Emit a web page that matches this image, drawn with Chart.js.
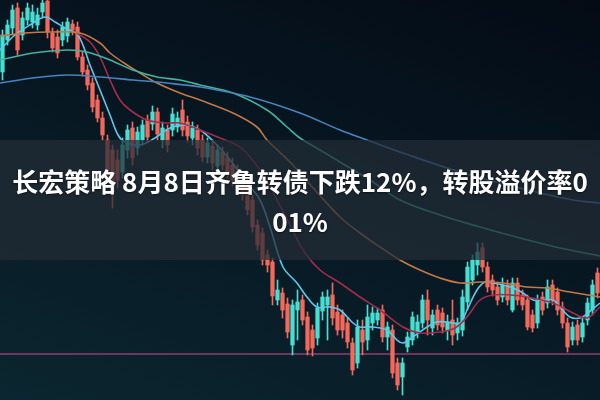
<!DOCTYPE html>
<html>
<head>
<meta charset="utf-8">
<script src="https://cdn.jsdelivr.net/npm/chart.js@4"></script>
<style>
    html, body { margin: 0; padding: 0; }
    #wrap {
        position: relative;
        width: 600px;
        height: 400px;
        overflow: hidden;
        background: linear-gradient(200deg, #040b15 0%, #071722 45%, #0b2630 100%);
    }
    #chart { position: absolute; left: 0; top: 0; filter: blur(0.4px); }
    #band {
        position: absolute;
        left: 0;
        top: 140px;
        width: 600px;
        height: 120px;
        background: rgba(34, 44, 54, 0.72);
    }
    #title {
        position: absolute;
        left: 0;
        top: 161px;
        width: 600px;
        text-align: center;
        color: #ffffff;
        font-family: "Noto Sans CJK SC", "Noto Sans", sans-serif;
        font-weight: bold;
        font-size: 26px;
        line-height: 40px;
        white-space: nowrap;
        text-shadow: 0 1px 2px rgba(0, 0, 0, 0.5);
    }
</style>
</head>
<body>
<div id="wrap">
    <canvas id="chart" width="600" height="400"></canvas>
    <div id="band"></div>
    <div id="title">长宏策略 8月8日齐鲁转债下跌12%，转股溢价率0<br>01%</div>
</div>
<script>
// Candle values (one per session)
const opens = [122.8, 126.0, 127.2, 129.2, 126.5, 128.0, 127.8, 127.5, 128.8, 129.9,
    126.7, 126.3, 126.0, 126.4, 127.6, 127.3, 124.3, 123.0, 121.7, 120.0,
    118.2, 116.0, 115.0, 114.0, 112.8, 115.0, 117.2, 115.2, 116.0, 118.0,
    117.6, 118.8, 116.0, 117.0, 117.0, 117.3, 119.0, 117.8, 116.2, 117.0,
    116.0, 114.3, 115.4, 113.4, 114.8, 114.2, 113.5, 112.8, 112.0, 111.0,
    110.0, 107.5, 106.7, 104.5, 103.8, 100.0, 100.7, 99.6, 95.5, 99.0,
    100.0, 98.3, 97.0, 96.2, 98.9, 99.5, 100.5, 98.8, 98.5, 97.7,
    95.7, 93.7, 97.0, 96.0, 97.7, 98.0, 99.0, 96.3, 97.0, 93.7,
    92.3, 95.3, 96.0, 96.7, 97.7, 100.0, 97.2, 99.0, 98.7, 97.0,
    98.0, 96.7, 97.0, 99.8, 102.0, 103.5, 105.2, 103.3, 102.0, 101.3,
    100.3, 101.5, 99.0, 101.7, 100.5, 100.0, 98.5, 97.7, 100.3, 99.7,
    101.5, 100.8, 99.3, 97.7, 96.0, 97.5, 96.3, 98.0, 99.0, 102.7];
const closes = [126.5, 127.5, 129.0, 125.0, 128.2, 129.2, 128.8, 128.5, 129.7, 126.8,
    125.2, 124.7, 127.3, 127.8, 127.0, 124.3, 122.8, 121.5, 119.3, 118.2,
    116.5, 113.0, 110.8, 112.0, 115.5, 117.0, 114.2, 116.8, 117.5, 116.3,
    118.8, 116.6, 117.2, 115.5, 118.6, 118.2, 117.0, 116.4, 117.2, 115.2,
    114.3, 115.7, 113.7, 115.0, 113.5, 112.8, 112.0, 111.0, 110.5, 109.0,
    107.3, 105.5, 104.0, 103.5, 100.4, 101.0, 99.0, 96.8, 99.5, 99.8,
    98.0, 95.0, 95.2, 99.2, 100.3, 100.3, 98.2, 97.0, 97.0, 95.8,
    93.0, 97.3, 95.8, 98.3, 98.7, 98.7, 96.3, 97.3, 92.7, 91.5,
    93.7, 96.3, 98.3, 97.8, 100.0, 98.0, 98.5, 97.5, 97.3, 97.8,
    96.5, 97.7, 100.3, 103.3, 104.0, 104.8, 103.3, 101.3, 101.0, 100.0,
    101.5, 100.0, 101.7, 100.0, 99.5, 97.3, 97.2, 100.0, 99.0, 101.3,
    100.0, 99.0, 97.7, 95.3, 97.3, 96.0, 97.7, 99.7, 101.5, 100.7];
const highs = [127.0, 128.0, 129.5, 129.7, 128.8, 129.7, 129.5, 129.2, 130.0, 130.5,
    127.2, 127.0, 127.8, 128.2, 128.0, 127.8, 124.8, 123.5, 122.2, 120.5,
    118.8, 116.5, 115.5, 115.0, 116.2, 117.5, 117.8, 117.3, 118.0, 118.5,
    119.4, 119.2, 117.8, 117.5, 119.2, 118.8, 120.0, 118.4, 117.8, 117.5,
    116.5, 116.2, 116.0, 115.5, 115.3, 114.8, 114.2, 113.5, 112.8, 111.7,
    110.5, 108.0, 107.2, 105.0, 104.2, 102.0, 101.2, 100.2, 100.0, 101.0,
    100.5, 98.8, 97.5, 99.7, 100.8, 101.0, 101.7, 99.5, 99.0, 98.2,
    96.2, 98.0, 98.0, 99.5, 99.3, 99.2, 99.5, 97.8, 97.5, 94.2,
    94.2, 96.8, 98.8, 98.5, 100.5, 101.0, 99.0, 99.5, 99.2, 98.5,
    100.0, 98.2, 101.0, 103.8, 104.5, 105.7, 105.7, 103.8, 102.5, 101.8,
    102.2, 102.0, 102.2, 102.2, 101.0, 100.5, 99.0, 100.5, 100.8, 102.0,
    102.0, 101.2, 99.8, 98.2, 97.8, 98.0, 98.2, 100.2, 102.0, 103.2];
const lows = [122.0, 125.5, 126.5, 124.5, 126.0, 127.5, 127.2, 127.0, 128.2, 126.2,
    124.8, 124.2, 125.4, 125.8, 126.5, 124.0, 122.4, 121.0, 118.8, 117.8,
    116.0, 112.0, 109.2, 111.2, 112.2, 114.2, 113.5, 114.5, 115.5, 115.8,
    117.0, 116.0, 115.2, 114.8, 116.4, 116.8, 116.4, 115.8, 115.5, 114.5,
    113.8, 113.7, 113.0, 112.8, 113.0, 112.2, 111.4, 110.5, 110.0, 108.5,
    106.8, 105.0, 103.5, 102.8, 99.5, 99.5, 98.2, 96.2, 94.5, 96.0,
    97.5, 94.5, 94.4, 95.5, 98.0, 96.0, 97.5, 96.5, 96.2, 95.2,
    92.5, 93.2, 94.5, 95.0, 97.0, 97.5, 95.8, 95.0, 92.2, 91.0,
    90.5, 94.8, 95.5, 96.2, 97.2, 96.5, 96.5, 97.0, 96.7, 96.0,
    95.5, 96.0, 96.4, 99.0, 101.5, 102.5, 102.8, 100.8, 100.4, 99.5,
    99.8, 99.5, 98.8, 99.5, 99.0, 97.0, 96.8, 97.2, 98.5, 99.2,
    99.5, 98.5, 97.2, 94.8, 95.5, 95.5, 95.8, 97.5, 98.5, 100.2];

// Moving average lines (position in sessions, value)
const maFastAt = [-0.5, 2.5, 5.5, 8.5, 10.5, 12.5, 15.1, 17.5, 19.5, 21.5, 23.1, 24.5, 27.5, 30.5,
    33.5, 36.5, 39.5, 42.5, 45.5, 48.5, 51.5, 53.5, 56.1, 58.9, 60.9, 62.9, 65.5, 67.5, 70.1,
    71.5, 74.1, 76.9, 78.9, 80.1, 82.1, 84.9, 86.9, 88.9, 91.5, 92.9, 94.9, 96.5, 98.1, 100.1,
    102.1, 104.1, 106.1, 108.1, 110.1, 111.5, 113.5, 115.5, 117.1, 119.5];
const maFast = [125.0, 126.5, 127.5, 128.3, 127.8, 127.2, 126.5, 123.5, 121.0, 118.5, 116.5, 115.8, 115.5, 116.2,
    117.2, 117.5, 117.0, 115.7, 114.0, 112.0, 110.0, 107.3, 103.3, 101.7, 100.3, 99.3, 99.3, 99.0, 97.7,
    97.3, 97.3, 97.0, 96.0, 95.7, 96.3, 97.3, 97.8, 97.8, 97.7, 99.0, 101.0, 101.8, 101.7, 101.5,
    101.2, 100.7, 100.0, 100.0, 100.0, 99.3, 98.3, 98.2, 98.7, 99.7];

const maRedAt = [14.5, 17.5, 19.5, 21.5, 23.5, 25.5, 28.9, 32.9, 35.5, 39.5, 43.5, 47.5, 51.5, 54.9,
    57.5, 60.1, 63.5, 67.5, 71.5, 75.5, 80.1, 83.5, 87.5, 90.5, 92.9, 95.5, 98.1, 101.5, 104.9,
    110.1, 114.1, 116.9, 119.5];
const maRed = [126.8, 125.8, 124.3, 122.0, 120.0, 119.0, 118.0, 117.7, 117.7, 117.0, 116.2, 115.3, 113.0, 110.0,
    107.5, 105.0, 103.0, 101.7, 100.3, 99.0, 97.3, 96.7, 96.8, 97.2, 98.3, 100.0, 100.5, 100.5, 100.3,
    99.7, 98.7, 98.2, 99.3];

const maOrangeAt = [-0.5, 4.5, 9.5, 15.5, 19.5, 21.5, 24.9, 27.5, 30.9, 35.5, 39.5, 46.1, 50.9, 52.9,
    57.5, 62.5, 67.5, 71.5, 75.5, 79.5, 83.5, 87.5, 91.5, 95.5, 100.1, 104.9, 108.9, 113.5, 119.5];
const maOrange = [126.4, 126.7, 126.8, 126.7, 125.7, 124.7, 123.5, 122.7, 121.7, 120.7, 120.0, 118.7, 117.3, 116.0,
    113.8, 111.0, 108.3, 106.7, 105.3, 104.0, 103.0, 102.2, 101.7, 101.8, 101.7, 101.3, 101.2, 100.8, 100.3];

const maGreenAt = [-0.5, 6.1, 12.9, 16.9, 21.5, 26.1, 30.9, 35.5, 39.5, 46.1, 52.9, 56.9, 59.5, 63.5,
    67.5, 73.5, 79.5, 87.5, 95.5, 103.5, 111.5, 119.5];
const maGreen = [124.0, 124.7, 125.0, 124.8, 124.0, 123.0, 122.3, 122.0, 121.5, 120.7, 119.0, 117.3, 116.2, 115.0,
    113.8, 112.0, 110.0, 108.5, 107.3, 106.2, 105.2, 104.4];

const maBlueAt = [-0.5, 6.1, 12.9, 19.5, 26.1, 32.9, 39.5, 49.5, 59.5, 67.5, 72.9, 79.5, 91.5, 103.5, 114.1, 119.5];
const maBlue = [121.7, 122.2, 122.5, 122.3, 122.0, 121.7, 121.3, 120.3, 118.7, 117.0, 116.0, 114.8, 112.8, 111.2, 110.0, 109.7];

// Flat reference level
const refLevel = 94.6;

const UP = '#46e0d3';
const DOWN = '#f4695c';

const points = (xs, ys) => xs.map((x, i) => ({ x: x, y: ys[i] }));
const candleColors = opens.map((o, i) => closes[i] >= o ? UP : DOWN);

function maLine(label, xs, ys, color) {
    return {
        type: 'line',
        label: label,
        data: points(xs, ys),
        borderColor: color,
        borderWidth: 1.6,
        pointRadius: 0,
        tension: 0.35,
        fill: false,
        order: 0
    };
}

const ctx = document.getElementById('chart').getContext('2d');
new Chart(ctx, {
    type: 'bar',
    data: {
        datasets: [
            {
                label: 'wick',
                data: opens.map((o, i) => ({ x: i, y: [lows[i], highs[i]] })),
                backgroundColor: candleColors,
                barThickness: 1,
                grouped: false,
                order: 2
            },
            {
                label: 'body',
                data: opens.map((o, i) => ({ x: i, y: [o, closes[i]] })),
                backgroundColor: candleColors,
                barThickness: 3.6,
                minBarLength: 1,
                grouped: false,
                order: 1
            },
            {
                type: 'line',
                label: 'level',
                data: [{ x: -0.5, y: refLevel }, { x: 119.5, y: refLevel }],
                borderColor: '#8e3f70',
                borderWidth: 1.6,
                pointRadius: 0,
                order: 3
            },
            maLine('MA60', maBlueAt, maBlue, '#4783bd'),
            maLine('MA30', maGreenAt, maGreen, '#43b39b'),
            maLine('MA20', maOrangeAt, maOrange, '#c27946'),
            maLine('MA10', maRedAt, maRed, '#a42c4c'),
            maLine('MA5', maFastAt, maFast, '#5ec8ea')
        ]
    },
    options: {
        responsive: false,
        animation: false,
        layout: { padding: 0 },
        plugins: {
            legend: { display: false },
            tooltip: { enabled: false }
        },
        scales: {
            x: { type: 'linear', min: -0.5, max: 119.5, offset: false, display: false },
            y: { min: 90, max: 130, display: false }
        }
    }
});
</script>
</body>
</html>
